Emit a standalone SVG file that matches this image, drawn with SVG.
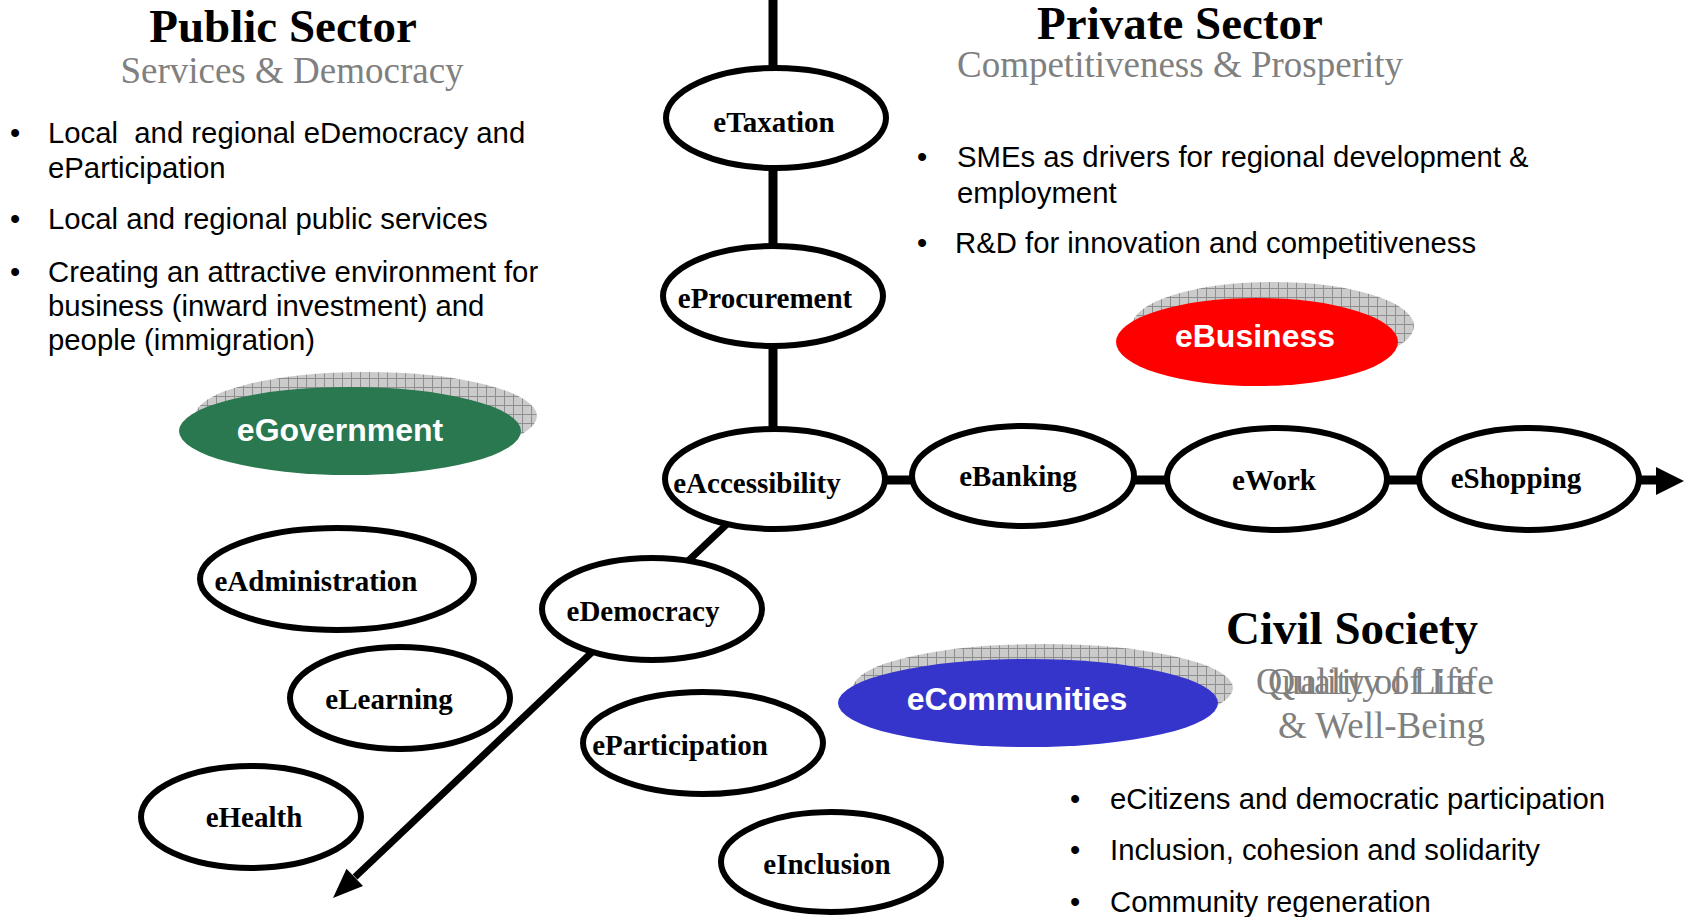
<svg xmlns="http://www.w3.org/2000/svg" width="1686" height="917" viewBox="0 0 1686 917">
<style>
.bg{fill:#ffffff}
.node{fill:#ffffff;stroke:#000000;stroke-width:6}
.lbl{font-family:"Liberation Serif","Times New Roman",serif;font-weight:bold;font-size:29px;fill:#000000;text-anchor:middle}
.title{font-family:"Liberation Serif","Times New Roman",serif;font-weight:bold;font-size:47px;fill:#000000;text-anchor:middle}
.sub{font-family:"Liberation Serif","Times New Roman",serif;font-size:37px;fill:#808080}
.txt{font-family:"Liberation Sans",Arial,sans-serif;font-size:29.3px;fill:#000000;white-space:pre}
.big{font-family:"Liberation Sans",Arial,sans-serif;font-weight:bold;font-size:32px;fill:#ffffff;text-anchor:middle}
.shadow{fill:url(#grid)}
.axis{stroke:#000000;stroke-width:9;fill:none}
.diag{stroke:#000000;stroke-width:7;fill:none}
</style>
<defs>
<pattern id="grid" width="9" height="9" patternUnits="userSpaceOnUse">
<rect width="9" height="9" fill="#cbcbcb"/>
<path d="M0 0.5H9M0.5 0V9" stroke="#8e8e8e" stroke-width="1"/>
</pattern>
</defs>
<rect class="bg" width="1686" height="917"/>

<g id="connectors">
<line class="axis" x1="773" y1="0" x2="773" y2="440"/>
<line class="axis" x1="880" y1="480" x2="1658" y2="480"/>
<polygon points="1684,481 1656,467 1656,495" fill="#000000"/>
<line class="diag" x1="745" y1="507" x2="355" y2="877"/>
<polygon points="333,898 363,886 346.5,868.7" fill="#000000"/>
</g>

<g id="public-sector">
<text class="title" x="283" y="42">Public Sector</text>
<text class="sub" x="292" y="83" text-anchor="middle">Services &amp; Democracy</text>
<text class="txt" x="10" y="143">•</text>
<text class="txt" x="48" y="143">Local  and regional eDemocracy and</text>
<text class="txt" x="48" y="178">eParticipation</text>
<text class="txt" x="10" y="229">•</text>
<text class="txt" x="48" y="229">Local and regional public services</text>
<text class="txt" x="10" y="282">•</text>
<text class="txt" x="48" y="282">Creating an attractive environment for</text>
<text class="txt" x="48" y="316">business (inward investment) and</text>
<text class="txt" x="48" y="350">people (immigration)</text>
</g>

<g id="private-sector">
<text class="title" x="1180" y="39">Private Sector</text>
<text class="sub" x="1180" y="77" text-anchor="middle">Competitiveness &amp; Prosperity</text>
<text class="txt" x="917" y="167">•</text>
<text class="txt" x="957" y="167">SMEs as drivers for regional development &amp;</text>
<text class="txt" x="957" y="203">employment</text>
<text class="txt" x="917" y="253">•</text>
<text class="txt" x="955" y="253">R&amp;D for innovation and competitiveness</text>
</g>

<g id="civil-society">
<text class="title" x="1352" y="644">Civil Society</text>
<text class="sub" x="1256" y="694" textLength="218" lengthAdjust="spacingAndGlyphs">Quality of Life</text>
<text class="sub" x="1268" y="694" textLength="226" lengthAdjust="spacingAndGlyphs">Quality of Life</text>
<text class="sub" x="1278" y="738">&amp; Well-Being</text>
<text class="txt" x="1070" y="809">•</text>
<text class="txt" x="1110" y="809">eCitizens and democratic participation</text>
<text class="txt" x="1070" y="860">•</text>
<text class="txt" x="1110" y="860">Inclusion, cohesion and solidarity</text>
<text class="txt" x="1070" y="912">•</text>
<text class="txt" x="1110" y="912">Community regeneration</text>
</g>

<g id="eGovernment">
<ellipse class="shadow" cx="366" cy="416" rx="171" ry="44"/>
<ellipse cx="350" cy="431" rx="171" ry="44" fill="#29784f"/>
<text class="big" x="340" y="441">eGovernment</text>
</g>
<g id="eBusiness">
<ellipse class="shadow" cx="1273" cy="326" rx="141" ry="44"/>
<ellipse cx="1257" cy="342" rx="141" ry="44" fill="#ff0000"/>
<text class="big" x="1255" y="347">eBusiness</text>
</g>
<g id="eCommunities">
<ellipse class="shadow" cx="1043" cy="688" rx="190" ry="44"/>
<ellipse cx="1028" cy="703" rx="190" ry="44" fill="#3535cc"/>
<text class="big" x="1017" y="710">eCommunities</text>
</g>

<g id="eTaxation"><ellipse class="node" cx="776" cy="118" rx="110" ry="50"/><text class="lbl" x="774" y="132">eTaxation</text></g>
<g id="eProcurement"><ellipse class="node" cx="773" cy="296" rx="110" ry="50"/><text class="lbl" x="765" y="308">eProcurement</text></g>
<g id="eAccessibility"><ellipse class="node" cx="775" cy="479" rx="110" ry="50"/><text class="lbl" x="757" y="493">eAccessibility</text></g>
<g id="eBanking"><ellipse class="node" cx="1023" cy="476" rx="111" ry="50"/><text class="lbl" x="1018" y="486">eBanking</text></g>
<g id="eWork"><ellipse class="node" cx="1277" cy="479" rx="110" ry="51"/><text class="lbl" x="1274" y="490">eWork</text></g>
<g id="eShopping"><ellipse class="node" cx="1529" cy="479" rx="110" ry="51"/><text class="lbl" x="1516" y="488">eShopping</text></g>
<g id="eDemocracy"><ellipse class="node" cx="652" cy="609" rx="110" ry="51"/><text class="lbl" x="643" y="621">eDemocracy</text></g>
<g id="eAdministration"><ellipse class="node" cx="337" cy="579" rx="137" ry="51"/><text class="lbl" x="316" y="591">eAdministration</text></g>
<g id="eLearning"><ellipse class="node" cx="400" cy="698" rx="110" ry="51"/><text class="lbl" x="389" y="709">eLearning</text></g>
<g id="eHealth"><ellipse class="node" cx="251" cy="817" rx="110" ry="51"/><text class="lbl" x="254" y="827">eHealth</text></g>
<g id="eParticipation"><ellipse class="node" cx="703" cy="743" rx="120" ry="51"/><text class="lbl" x="680" y="755">eParticipation</text></g>
<g id="eInclusion"><ellipse class="node" cx="831" cy="862" rx="110" ry="50"/><text class="lbl" x="827" y="874">eInclusion</text></g>
</svg>
